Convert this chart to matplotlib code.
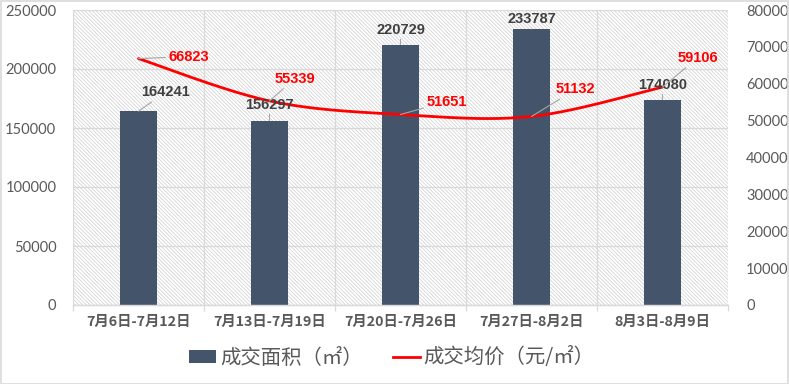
import numpy as np
import matplotlib
matplotlib.use("Agg")
import matplotlib.pyplot as plt
from matplotlib.patches import Rectangle, Patch
from matplotlib.lines import Line2D

plt.rcParams['font.family'] = ['Lato', 'Noto Sans CJK SC', 'DejaVu Sans']
plt.rcParams['hatch.linewidth'] = 0.5

categories = ["7月6日-7月12日", "7月13日-7月19日", "7月20日-7月26日", "7月27日-8月2日", "8月3日-8月9日"]
area = [164241, 156297, 220729, 233787, 174080]
price = [66823, 55339, 51651, 51132, 59106]
area_label = "成交面积（㎡）"
price_label = "成交均价（元/㎡）"

BAR_COLOR = "#44546A"
LINE_COLOR = "#FF0000"
GRID_COLOR = "#D9D9D9"
TICK_COLOR = "#595959"
CJK = ['Noto Sans CJK SC', 'DejaVu Sans']
NUM = ['Liberation Sans', 'DejaVu Sans']

fig = plt.figure(figsize=(7.89, 3.84), dpi=100)
W, H = 789, 384
ax = fig.add_axes([73 / W, (H - 305) / H, 655 / W, 295 / H])
ax2 = ax.twinx()

# hatched plot-area background
bg = Rectangle((0, 0), 1, 1, transform=ax.transAxes, facecolor="white",
               edgecolor="#CDCDCD", hatch="\\" * 9, lw=0, zorder=0)
ax.add_patch(bg)
ax.patch.set_visible(False)

x = np.arange(len(categories))
ax.bar(x, area, width=0.29, color=BAR_COLOR, zorder=2)

# Excel-like smoothed line (Catmull-Rom Bezier)
def smooth(xs, ys, n=40):
    P = np.column_stack([xs, ys]).astype(float)
    Pe = np.vstack([P[0], P, P[-1]])
    out = []
    for i in range(len(P) - 1):
        p0, p1, p2, p3 = Pe[i], Pe[i + 1], Pe[i + 2], Pe[i + 3]
        c1 = p1 + (p2 - p0) / 6
        c2 = p2 - (p3 - p1) / 6
        t = np.linspace(0, 1, n)[:, None]
        seg = ((1 - t) ** 3) * p1 + 3 * ((1 - t) ** 2) * t * c1 + 3 * (1 - t) * t ** 2 * c2 + t ** 3 * p2
        out.append(seg if i == 0 else seg[1:])
    s = np.vstack(out)
    return s[:, 0], s[:, 1]

sx, sy = smooth(x, price)
ax2.plot(sx, sy, color=LINE_COLOR, lw=2.0, solid_capstyle='round', zorder=3)

ax.set_xlim(-0.5, len(categories) - 0.5)
ax.set_ylim(0, 250000)
ax2.set_ylim(0, 80000)
ax.set_yticks(np.arange(0, 250001, 50000))
ax2.set_yticks(np.arange(0, 80001, 10000))

# grid
ax.set_axisbelow(True)
ax.grid(axis='y', color=GRID_COLOR, lw=0.9)
ax.set_xticks(np.arange(-0.5, len(categories), 1.0))
ax.set_xticklabels([])
ax.set_xticks(x, minor=True)
ax.set_xticklabels(categories, minor=True, fontfamily=CJK, fontweight='bold',
                   fontsize=10.3, color=TICK_COLOR)
ax.grid(axis='x', which='major', color=GRID_COLOR, lw=0.9)
ax.tick_params(axis='x', which='major', length=4, color=GRID_COLOR, width=0.9)
ax.tick_params(axis='x', which='minor', length=0, pad=7)
ax.tick_params(axis='y', length=0, labelsize=10.5, labelcolor=TICK_COLOR, pad=12)
ax2.tick_params(axis='y', length=0, labelsize=10.5, labelcolor=TICK_COLOR, pad=13)
for a in (ax, ax2):
    for s in ['top', 'left', 'right']:
        a.spines[s].set_visible(False)
    a.spines['bottom'].set_color(GRID_COLOR)
    a.spines['bottom'].set_linewidth(0.9)

# data labels (offsets in px -> points)
pt = 0.72
bar_offsets = [(27, 19), (0, 16), (0, 15), (0, 10), (0, 15)]
for xi, v, (dx, dy) in zip(x, area, bar_offsets):
    ax2.annotate(f"{v}", xy=(xi, v), xycoords=ax.transData,
                 xytext=(dx * pt, dy * pt), textcoords='offset points',
                 ha='center', va='center', fontsize=10.5, fontweight='bold',
                 fontfamily=NUM, color="#404040", zorder=5,
                 arrowprops=dict(arrowstyle='-', color="#A6A6A6", lw=0.8,
                                 shrinkA=0, shrinkB=0))

price_offsets = [(50, 2), (25, 22), (46, 13), (44, 27), (35, 29)]
for xi, v, (dx, dy) in zip(x, price, price_offsets):
    ax2.annotate(f"{v}", xy=(xi, v), xycoords='data',
                 xytext=(dx * pt, dy * pt), textcoords='offset points',
                 ha='center', va='center', fontsize=10.5, fontweight='bold',
                 fontfamily=NUM, color=LINE_COLOR, zorder=5,
                 arrowprops=dict(arrowstyle='-', color="#A6A6A6", lw=0.8,
                                 shrinkA=0, shrinkB=0))

handles = [Patch(facecolor=BAR_COLOR, edgecolor='none', label=area_label),
           Line2D([0], [0], color=LINE_COLOR, lw=2.0, label=price_label)]
fig.legend(handles=handles, loc='center', bbox_to_anchor=(392 / W, 1 - 358 / H),
           ncol=2, frameon=False, prop={'family': CJK, 'size': 14.7},
           labelcolor=TICK_COLOR, handlelength=1.3, handleheight=0.6,
           handletextpad=0.2, columnspacing=1.5)

# figure border
fig.patches.append(Rectangle((0.5 / W, 0.5 / H), 1 - 1.5 / W, 1 - 1.5 / H,
                             transform=fig.transFigure, fill=False,
                             edgecolor=GRID_COLOR, lw=1.2))

fig.savefig("out.png", dpi=100)
